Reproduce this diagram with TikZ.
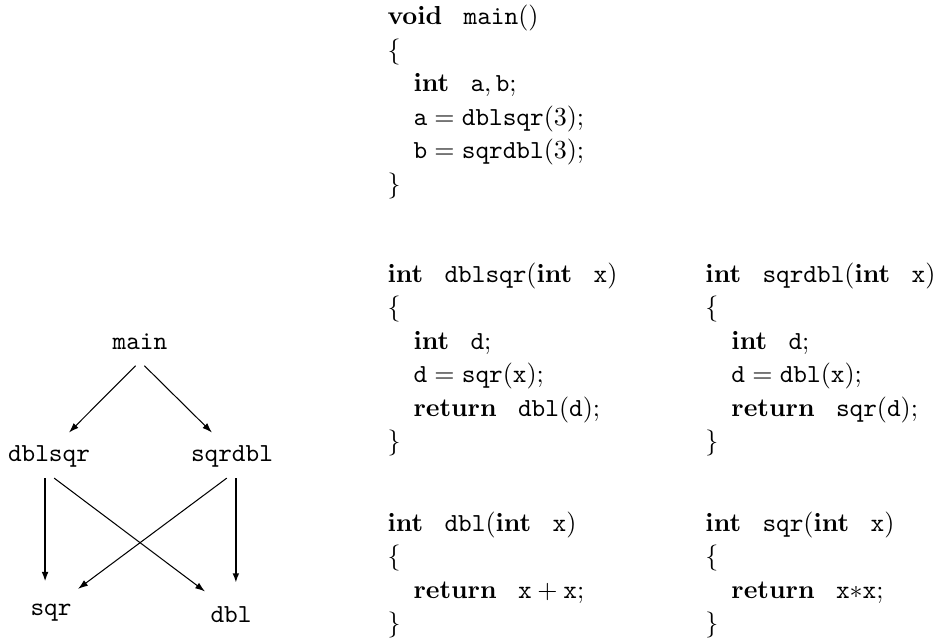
\documentclass[tikz,border=0pt]{standalone}
\usetikzlibrary{arrows.meta}

% keywords in bold, names in typewriter
\newcommand{\kw}[1]{\mathbf{#1}\hspace{0.82em}}
\newcommand{\vr}[1]{\mathtt{#1}}

\tikzset{
  fn/.style={font=\ttfamily, inner sep=0pt, anchor=base},
  % base of a code block is the baseline of its closing brace
  code/.style={align=left, inner sep=0pt, anchor=base west,
    font=\fontsize{10}{12.9}\selectfont},
  call/.style={-{Latex[length=3.8pt,width=2.6pt]}, line width=0.4pt},
  direct/.style={call, line width=0.9pt}
}

\begin{document}
\begin{tikzpicture}
\useasboundingbox (0,0) rectangle (12.744,-8.636);

% call graph
\node[fn] (main) at (1.892,-4.730) {main};
\node[fn] (dblsqr) at (0.662,-6.243) {dblsqr};
\node[fn] (sqrdbl) at (3.135,-6.243) {sqrdbl};
\node[fn] (sqr) at (0.689,-8.324) {sqr};
\node[fn] (dbl) at (3.122,-8.419) {dbl};

\draw[call] ([xshift=-1.7pt,yshift=-5.8pt]main.south) -- ([xshift=7.7pt,yshift=5pt]dblsqr.north);
\draw[call] ([xshift=1.7pt,yshift=-5.8pt]main.south) -- ([xshift=-7.7pt,yshift=5pt]sqrdbl.north);
\draw[direct] ([xshift=-1.5pt,yshift=-3.8pt]dblsqr.south) -- ([xshift=-1.5pt]dblsqr.south |- sqr.north) [shorten >=8.5pt];
\draw[direct] ([xshift=1.5pt,yshift=-3.8pt]sqrdbl.south) -- ([xshift=1.5pt]sqrdbl.south |- dbl.north) [shorten >=9pt];
\draw[call] ([xshift=2pt,yshift=-3.8pt]dblsqr.south) -- ([xshift=-10pt,yshift=5.8pt]dbl.north);
\draw[call] ([xshift=-2pt,yshift=-3.8pt]sqrdbl.south) -- ([xshift=10.4pt,yshift=5.8pt]sqr.north);

% the five functions
\node[code] (mainsrc) at (5.230,-2.600) {%
  $\kw{void}\vr{main}()$\\
  \{\\
  \quad$\kw{int}\vr{a},\vr{b};$\\
  \quad$\vr{a}=\vr{dblsqr}(3);$\\
  \quad$\vr{b}=\vr{sqrdbl}(3);$\\
  \}};
\node[code] (dblsqrsrc) at (5.230,-6.081) {%
  $\kw{int}\vr{dblsqr}(\kw{int}\vr{x})$\\
  \{\\
  \quad$\kw{int}\vr{d};$\\
  \quad$\vr{d}=\vr{sqr}(\vr{x});$\\
  \quad$\kw{return}\vr{dbl}(\vr{d});$\\
  \}};
\node[code] (sqrdblsrc) at (9.527,-6.081) {%
  $\kw{int}\vr{sqrdbl}(\kw{int}\vr{x})$\\
  \{\\
  \quad$\kw{int}\vr{d};$\\
  \quad$\vr{d}=\vr{dbl}(\vr{x});$\\
  \quad$\kw{return}\vr{sqr}(\vr{d});$\\
  \}};
\node[code] (dblsrc) at (5.230,-8.541) {%
  $\kw{int}\vr{dbl}(\kw{int}\vr{x})$\\
  \{\\
  \quad$\kw{return}\vr{x}+\vr{x};$\\
  \}};
\node[code] (sqrsrc) at (9.527,-8.541) {%
  $\kw{int}\vr{sqr}(\kw{int}\vr{x})$\\
  \{\\
  \quad$\kw{return}\vr{x}{\ast}\vr{x};$\\
  \}};
\end{tikzpicture}
\end{document}
